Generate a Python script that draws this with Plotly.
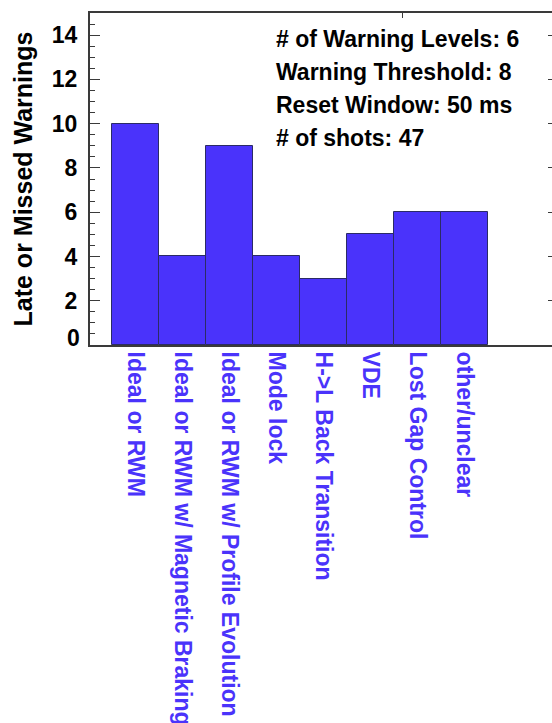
import plotly.graph_objects as go

# Disruption categories and the number of late or missed warnings in each
categories = [
    "Ideal or RWM",
    "Ideal or RWM w/ Magnetic Braking",
    "Ideal or RWM w/ Profile Evolution",
    "Mode lock",
    "H->L Back Transition",
    "VDE",
    "Lost Gap Control",
    "other/unclear",
]
late_or_missed = [10, 4, 9, 4, 3, 5, 6, 6]

# Run settings printed in the upper right
settings = [
    "# of Warning Levels: 6",
    "Warning Threshold: 8",
    "Reset Window: 50 ms",
    "# of shots: 47",
]

y_ticks = [2, 4, 6, 8, 10, 12, 14]

BAR_BLUE = "#4a33fb"
AXIS_GRAY = "#3a3a3a"
FONT = "Liberation Sans, Arial, sans-serif"

positions = list(range(len(categories)))
x_range = [-0.968, 8.86]
y_range = [0, 15]

fig = go.Figure()

fig.add_trace(
    go.Bar(
        x=positions,
        y=late_or_missed,
        width=1.0,
        marker=dict(color=BAR_BLUE, line=dict(color="#2b2b66", width=1)),
        showlegend=False,
        hoverinfo="y",
    )
)

# Empty trace that carries the secondary (top / right) axes used for the frame ticks
fig.add_trace(
    go.Scatter(x=[None], y=[None], xaxis="x2", yaxis="y2", showlegend=False, hoverinfo="skip")
)

fig.update_layout(
    width=552,
    height=723,
    margin=dict(l=90, r=0, t=13, b=378),
    paper_bgcolor="white",
    plot_bgcolor="white",
    font=dict(family=FONT, color="black"),
    bargap=0,
    xaxis=dict(
        range=x_range,
        tickmode="array",
        tickvals=positions,
        ticktext=categories,
        tickangle=90,
        ticks="",
        tickfont=dict(family=FONT, size=23, color=BAR_BLUE, weight="bold"),
        showline=True,
        linecolor=AXIS_GRAY,
        linewidth=2,
        mirror=True,
        showgrid=False,
        zeroline=False,
        automargin=False,
        fixedrange=True,
    ),
    yaxis=dict(
        range=y_range,
        tickmode="array",
        tickvals=y_ticks,
        ticks="inside",
        ticklen=10,
        tickwidth=1.2,
        tickcolor=AXIS_GRAY,
        minor=dict(dtick=0.5, tick0=0, ticks="inside", ticklen=5, tickwidth=1, tickcolor=AXIS_GRAY),
        tickfont=dict(family=FONT, size=23, color="black", weight="bold"),
        ticklabelstandoff=6,
        showline=True,
        linecolor=AXIS_GRAY,
        linewidth=2,
        mirror=False,
        showgrid=False,
        zeroline=False,
        title=dict(
            text="Late or Missed Warnings",
            font=dict(family=FONT, size=25, color="black", weight="bold"),
            standoff=12,
        ),
        automargin=False,
        fixedrange=True,
    ),
    xaxis2=dict(
        overlaying="x",
        side="top",
        range=x_range,
        tickmode="array",
        tickvals=[5.67],
        ticks="inside",
        ticklen=5,
        tickcolor=AXIS_GRAY,
        showticklabels=False,
        showline=False,
        showgrid=False,
        zeroline=False,
        fixedrange=True,
    ),
    yaxis2=dict(
        overlaying="y",
        side="right",
        range=y_range,
        tickmode="array",
        tickvals=y_ticks,
        ticks="inside",
        ticklen=4,
        tickcolor=AXIS_GRAY,
        showticklabels=False,
        showline=False,
        showgrid=False,
        zeroline=False,
        fixedrange=True,
    ),
)

# Zero label sits slightly above the bottom frame line
fig.add_annotation(
    text="<b>0</b>",
    xref="paper", yref="y",
    x=0, y=0,
    xanchor="right", yanchor="middle",
    xshift=-8, yshift=7,
    showarrow=False,
    font=dict(family=FONT, size=23, color="black"),
)

# Settings block, one line per entry
for i, line in enumerate(settings):
    fig.add_annotation(
        text=f"<b>{line}</b>",
        xref="paper", yref="paper",
        x=(274 - 90) / 462, y=1,
        xanchor="left", yanchor="middle",
        yshift=-(26 + 33 * i),
        showarrow=False,
        align="left",
        font=dict(family=FONT, size=23, color="black"),
    )

fig.write_html("out.html", config={"displayModeBar": False})
